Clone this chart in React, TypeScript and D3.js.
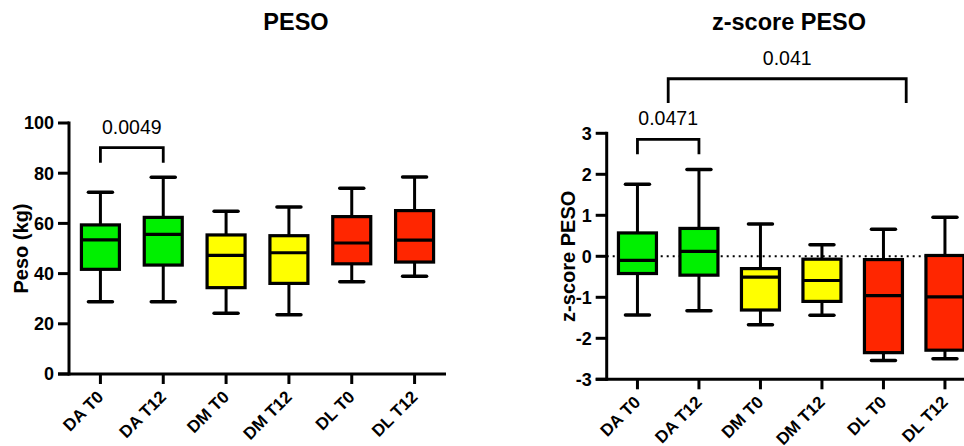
import React from "react";
import * as d3 from "d3";

const categories = ["DA T0", "DA T12", "DM T0", "DM T12", "DL T0", "DL T12"];
const boxColors = ["#00F000", "#00F000", "#FFFF00", "#FFFF00", "#FF2600", "#FF2600"];

const pesoMin = [28.8, 28.8, 24.2, 23.6, 36.8, 38.9];
const pesoQ1 = [41.7, 43.4, 34.4, 36.1, 43.9, 44.6];
const pesoMed = [53.4, 55.6, 47.3, 48.3, 52.2, 53.3];
const pesoQ3 = [59.4, 62.4, 55.4, 55.1, 62.7, 65.1];
const pesoMax = [72.4, 78.4, 64.8, 66.5, 74.0, 78.5];
const pesoTicks = [0, 20, 40, 60, 80, 100];

const zMin = [-1.43, -1.33, -1.67, -1.44, -2.54, -2.5];
const zQ1 = [-0.42, -0.46, -1.31, -1.1, -2.35, -2.29];
const zMed = [-0.1, 0.12, -0.51, -0.59, -0.96, -0.99];
const zQ3 = [0.57, 0.68, -0.3, -0.07, -0.08, 0.02];
const zMax = [1.76, 2.12, 0.79, 0.28, 0.66, 0.95];
const zTicks = [-3, -2, -1, 0, 1, 2, 3];

// brackets: from category (+offset in steps) to category (+offset), level and end in data units
const pesoBrackets = [{ a: 0, ao: 0, b: 1, bo: 0, level: 90.2, end: 84.2, label: "0.0049" }];
const zBrackets = [
  { a: 0, ao: 0, b: 1, bo: 0, level: 2.85, end: 2.49, label: "0.0471" },
  { a: 0, ao: 0.5, b: 4, bo: 0.37, level: 4.33, end: 3.74, label: "0.041" },
];

const FONT = "'Liberation Sans', Arial, Helvetica, sans-serif";

type PanelProps = {
  title: string;
  titleX: number;
  ylabel: string;
  ylabelX: number;
  xRange: [number, number];
  yRange: [number, number];
  domain: [number, number];
  ticks: number[];
  mins: number[];
  q1: number[];
  med: number[];
  q3: number[];
  maxs: number[];
  brackets: { a: number; ao: number; b: number; bo: number; level: number; end: number; label: string }[];
  zeroLine?: boolean;
};

function Panel(p: PanelProps) {
  const x = d3.scaleBand<string>().domain(categories).range(p.xRange).padding(0);
  const y = d3.scaleLinear().domain(p.domain).range(p.yRange);
  const cx = (i: number) => (x(categories[i]) as number) + x.bandwidth() / 2;
  const axisX = p.xRange[0];
  const axisY = p.yRange[0];
  const boxW = 38;
  const capW = 24;
  const yMid = (p.yRange[0] + p.yRange[1]) / 2;
  return (
    <g>
      <text x={p.titleX} y={30} textAnchor="middle" fontFamily={FONT} fontWeight="bold" fontSize={23.5}>
        {p.title}
      </text>
      <text
        transform={`translate(${p.ylabelX},${yMid}) rotate(-90)`}
        textAnchor="middle"
        fontFamily={FONT}
        fontWeight="bold"
        fontSize={20}
      >
        {p.ylabel}
      </text>
      {p.zeroLine && (
        <line x1={axisX} x2={p.xRange[1]} y1={y(0)} y2={y(0)} stroke="#000" strokeWidth={2} strokeDasharray="2,4" />
      )}
      {/* y axis */}
      <line x1={axisX} x2={axisX} y1={y(p.domain[0]) + 1.5} y2={y(p.domain[1]) - 1.5} stroke="#000" strokeWidth={3} />
      {p.ticks.map((t) => (
        <g key={t}>
          <line x1={axisX - 11} x2={axisX} y1={y(t)} y2={y(t)} stroke="#000" strokeWidth={3} />
          <text
            x={axisX - 15}
            y={y(t)}
            dy="0.36em"
            textAnchor="end"
            fontFamily={FONT}
            fontWeight="bold"
            fontSize={18}
          >
            {t}
          </text>
        </g>
      ))}
      {/* x axis */}
      <line x1={axisX - 11} x2={p.xRange[1]} y1={axisY} y2={axisY} stroke="#000" strokeWidth={3} />
      {categories.map((c, i) => (
        <g key={c}>
          <line x1={cx(i)} x2={cx(i)} y1={axisY} y2={axisY + 10} stroke="#000" strokeWidth={3} />
          <text
            transform={`translate(${cx(i) + 4},${axisY + 24}) rotate(-45)`}
            textAnchor="end"
            fontFamily={FONT}
            fontWeight="bold"
            fontSize={17}
          >
            {c}
          </text>
        </g>
      ))}
      {/* boxes */}
      {categories.map((c, i) => (
        <g key={"b" + c}>
          <line x1={cx(i)} x2={cx(i)} y1={y(p.maxs[i])} y2={y(p.q3[i])} stroke="#000" strokeWidth={3} />
          <line x1={cx(i)} x2={cx(i)} y1={y(p.q1[i])} y2={y(p.mins[i])} stroke="#000" strokeWidth={3} />
          <line
            x1={cx(i) - capW / 2}
            x2={cx(i) + capW / 2}
            y1={y(p.maxs[i])}
            y2={y(p.maxs[i])}
            stroke="#000"
            strokeWidth={3.5}
            strokeLinecap="round"
          />
          <line
            x1={cx(i) - capW / 2}
            x2={cx(i) + capW / 2}
            y1={y(p.mins[i])}
            y2={y(p.mins[i])}
            stroke="#000"
            strokeWidth={3.5}
            strokeLinecap="round"
          />
          <rect
            x={cx(i) - boxW / 2}
            y={y(p.q3[i])}
            width={boxW}
            height={y(p.q1[i]) - y(p.q3[i])}
            fill={boxColors[i]}
            stroke="#000"
            strokeWidth={3.2}
          />
          <line
            x1={cx(i) - boxW / 2}
            x2={cx(i) + boxW / 2}
            y1={y(p.med[i])}
            y2={y(p.med[i])}
            stroke="#000"
            strokeWidth={3.2}
          />
        </g>
      ))}
      {/* brackets */}
      {p.brackets.map((b, k) => {
        const xa = cx(b.a) + b.ao * x.step();
        const xb = cx(b.b) + b.bo * x.step();
        const yl = y(b.level);
        const ye = y(b.end);
        return (
          <g key={"br" + k}>
            <path d={`M${xa},${ye}V${yl}H${xb}V${ye}`} fill="none" stroke="#000" strokeWidth={2.8} />
            <text x={(xa + xb) / 2} y={yl - 14} textAnchor="middle" fontFamily={FONT} fontSize={19.5}>
              {b.label}
            </text>
          </g>
        );
      })}
    </g>
  );
}

export default function App() {
  return (
    <svg width={964} height={446} style={{ position: "absolute", left: 0, top: 0, background: "#fff" }}>
      <rect width={964} height={446} fill="#fff" />
      <Panel
        title="PESO"
        titleX={296}
        ylabel="Peso (kg)"
        ylabelX={28}
        xRange={[69, 446]}
        yRange={[374, 123]}
        domain={[0, 100]}
        ticks={pesoTicks}
        mins={pesoMin}
        q1={pesoQ1}
        med={pesoMed}
        q3={pesoQ3}
        maxs={pesoMax}
        brackets={pesoBrackets}
      />
      <Panel
        title="z-score PESO"
        titleX={789}
        ylabel="z-score PESO"
        ylabelX={575}
        xRange={[606.7, 975.7]}
        yRange={[379.3, 133.3]}
        domain={[-3, 3]}
        ticks={zTicks}
        mins={zMin}
        q1={zQ1}
        med={zMed}
        q3={zQ3}
        maxs={zMax}
        brackets={zBrackets}
        zeroLine
      />
    </svg>
  );
}
